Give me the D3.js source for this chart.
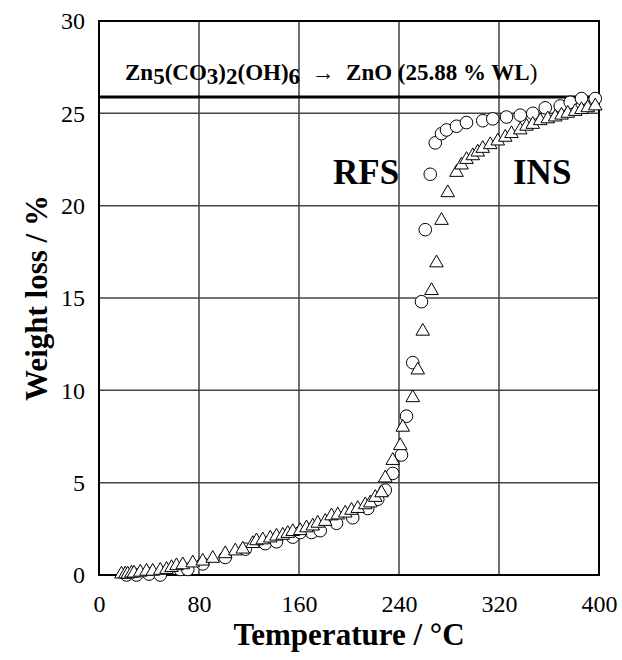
<!DOCTYPE html>
<html><head><meta charset="utf-8">
<script src="https://cdn.jsdelivr.net/npm/d3@7"></script>
<style>body{margin:0;background:#fff}svg{display:block}</style>
</head><body>
<script>
const xTicks = [0, 80, 160, 240, 320, 400];
const yTicks = [0, 5, 10, 15, 20, 25, 30];
const theoreticalWL = 25.88;

const rfsT = [22, 30, 40, 49, 65, 71, 83, 101, 117, 133, 142, 155, 161, 170, 177, 190, 203, 215, 223, 229, 235, 242, 246, 251, 258, 261, 265, 269, 274, 278, 286, 294, 307, 315, 326, 337, 347, 357, 369, 377, 386, 397];
const rfsW = [0, 0, 0.05, 0, 0.3, 0.3, 0.6, 0.95, 1.4, 1.7, 1.8, 2.05, 2.3, 2.3, 2.4, 2.8, 3.1, 3.6, 4.1, 4.6, 5.5, 6.5, 8.6, 11.5, 14.8, 18.7, 21.7, 23.4, 23.9, 24.1, 24.3, 24.5, 24.6, 24.7, 24.8, 24.9, 25.0, 25.3, 25.4, 25.6, 25.8, 25.8];

const insT = [18, 21, 23, 26, 28, 33, 38, 43, 49, 54, 58, 62, 67, 75, 83, 91, 101, 109, 115, 123, 126, 131, 137, 142, 147, 151, 155, 161, 166, 171, 175, 181, 186, 191, 197, 202, 207, 213, 217, 221, 226, 229, 235, 241, 243, 251, 255, 259, 266, 270, 274, 279, 286, 290, 294, 299, 303, 307, 313, 319, 325, 330, 337, 342, 347, 353, 359, 365, 370, 375, 381, 386, 391, 397];
const insW = [0.05, 0.05, 0.05, 0.1, 0.1, 0.15, 0.2, 0.2, 0.25, 0.3, 0.4, 0.5, 0.55, 0.65, 0.75, 0.9, 1.15, 1.3, 1.4, 1.7, 1.85, 1.9, 2.0, 2.1, 2.15, 2.25, 2.35, 2.4, 2.55, 2.65, 2.8, 2.9, 3.2, 3.25, 3.35, 3.5, 3.6, 3.8, 3.9, 4.2, 4.45, 5.25, 6.2, 7.0, 8.0, 9.6, 11.1, 13.2, 15.4, 16.9, 19.2, 20.7, 21.8, 22.2, 22.5, 22.7, 22.9, 23.1, 23.3, 23.5, 23.7, 23.9, 24.1, 24.3, 24.4, 24.6, 24.7, 24.8, 24.9, 25.0, 25.1, 25.2, 25.3, 25.4];

const FONT = "'Liberation Serif', 'Times New Roman', 'DejaVu Serif', serif";
const W = 622, H = 660;
const m = {left: 99, right: 23, top: 21, bottom: 85};
const iw = W - m.left - m.right, ih = H - m.top - m.bottom;

const svg = d3.select("body").append("svg").attr("width", W).attr("height", H)
  .style("font-family", FONT);
const g = svg.append("g").attr("transform", `translate(${m.left},${m.top})`);

const x = d3.scaleLinear().domain([0, 400]).range([0, iw]);
const y = d3.scaleLinear().domain([0, 30]).range([ih, 0]);

// grid
g.selectAll(".vg").data(xTicks.slice(1, -1)).join("line")
  .attr("x1", d => x(d)).attr("x2", d => x(d)).attr("y1", 0).attr("y2", ih)
  .attr("stroke", "#222").attr("stroke-width", 1.3);
g.selectAll(".hg").data(yTicks.slice(1, -1)).join("line")
  .attr("x1", 0).attr("x2", iw).attr("y1", d => y(d)).attr("y2", d => y(d))
  .attr("stroke", "#444").attr("stroke-width", 1.5);

// theoretical line
g.append("line").attr("x1", 0).attr("x2", iw).attr("y1", y(theoreticalWL)).attr("y2", y(theoreticalWL))
  .attr("stroke", "#000").attr("stroke-width", 3);

// axes (tick labels only)
const xAxis = g.append("g").attr("transform", `translate(0,${ih})`)
  .call(d3.axisBottom(x).tickValues(xTicks).tickSize(0).tickPadding(20));
const yAxis = g.append("g")
  .call(d3.axisLeft(y).tickValues(yTicks).tickSize(0).tickPadding(14));
[xAxis, yAxis].forEach(a => {
  a.attr("font-family", null).attr("font-size", null);
  a.select(".domain").remove();
  a.selectAll("text").attr("font-size", 24).style("font-family", FONT).attr("fill", "#000");
});

// frame
g.append("rect").attr("x", 0).attr("y", 0).attr("width", iw).attr("height", ih)
  .attr("fill", "none").attr("stroke", "#000").attr("stroke-width", 2);

// data
const rfs = rfsT.map((t, i) => [t, rfsW[i]]);
const ins = insT.map((t, i) => [t, insW[i]]);
g.selectAll(".c").data(rfs).join("circle")
  .attr("cx", d => x(d[0])).attr("cy", d => y(d[1])).attr("r", 6.3)
  .attr("fill", "#fff").attr("stroke", "#000").attr("stroke-width", 1);
const tri = d3.symbol().type(d3.symbolTriangle).size(80);
g.selectAll(".t").data(ins).join("path")
  .attr("d", tri).attr("transform", d => `translate(${x(d[0])},${y(d[1])})`)
  .attr("fill", "#fff").attr("stroke", "#000").attr("stroke-width", 1);

// equation label
const eq = g.append("text").attr("x", 26).attr("y", 59).attr("font-size", 23).attr("font-weight", "bold")
  .style("font-family", FONT).style("white-space", "pre");
const parts = [["Zn",0],["5",1],["(CO",0],["3",1],[")",0],["2",1],["(OH)",0],["6",1],["  \u2192  ZnO (25.88 % WL",0]];
let low = false;
parts.forEach(([t, s]) => {
  const ts = eq.append("tspan").text(t);
  if (s && !low) { ts.attr("dy", 4); low = true; }
  else if (!s && low) { ts.attr("dy", -4); low = false; }
});
eq.append("tspan").attr("font-weight", "normal").text(")");

g.append("text").attr("x", 234).attr("y", 163).attr("font-size", 35).attr("font-weight", "bold").style("font-family", FONT).text("RFS");
g.append("text").attr("x", 414).attr("y", 163).attr("font-size", 35).attr("font-weight", "bold").style("font-family", FONT).text("INS");

svg.append("text").attr("x", m.left + iw / 2).attr("y", 645).attr("text-anchor", "middle").style("font-family", FONT)
  .attr("font-size", 31).attr("font-weight", "bold").text("Temperature / \u00B0C");
svg.append("text").attr("transform", `translate(47,${m.top + ih / 2}) rotate(-90)`).attr("text-anchor", "middle").style("font-family", FONT)
  .attr("font-size", 31).attr("font-weight", "bold").text("Weight loss / %");
</script>
</body></html>
